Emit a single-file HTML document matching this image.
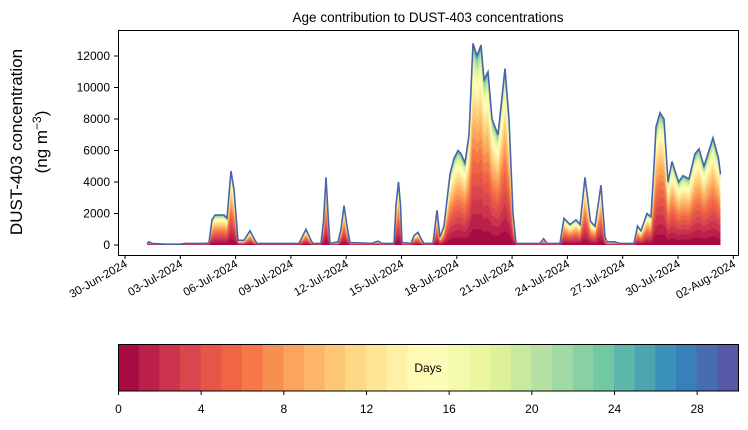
<!DOCTYPE html>
<html><head><meta charset="utf-8"><style>
body{margin:0;background:#fff;}
svg text{font-family:"Liberation Sans","DejaVu Sans",sans-serif;fill:#000;}
</style></head><body>
<svg id="s" width="748" height="425" xmlns="http://www.w3.org/2000/svg">
<defs><linearGradient id="g"></linearGradient></defs>
<g id="layers"></g>
<path id="env" fill="none" stroke="#4a64aa" stroke-width="1.6"/>
<rect x="118.5" y="30.5" width="620" height="225" fill="none" stroke="#000" stroke-width="1"/>
<text x="428" y="22" font-size="13.5" text-anchor="middle">Age contribution to DUST-403 concentrations</text>
<text transform="translate(22,142) rotate(-90)" font-size="17" text-anchor="middle">DUST-403 concentration</text>
<text transform="translate(47,142) rotate(-90)" font-size="17" text-anchor="middle">(ng m<tspan dy="-6" font-size="12">−3</tspan><tspan dy="6">)</tspan></text>
<g id="yt"></g><g id="xt"></g><g id="cb"></g>
</svg>
<script>
var S=document.getElementById('s'),NS='http://www.w3.org/2000/svg';
function el(t,a,p,txt){var e=document.createElementNS(NS,t);for(var k in a)e.setAttribute(k,a[k]);if(txt!=null)e.textContent=txt;(p||S).appendChild(e);return e;}
var stops=['#9e0142','#d53e4f','#f46d43','#fdae61','#fee08b','#ffffbf','#e6f598','#abdda4','#66c2a5','#3288bd','#5e4fa2'];
function hx(c){return [parseInt(c.substr(1,2),16),parseInt(c.substr(3,2),16),parseInt(c.substr(5,2),16)];}
function cmap(t){var p=t*10,i=Math.min(9,Math.floor(p)),f=p-i,a=hx(stops[i]),b=hx(stops[i+1]);return 'rgb('+a.map(function(v,k){return Math.round(v+(b[k]-v)*f)}).join(',')+')';}
var pts=[[147,100],[149,200],[152,100],[165,50],[180,50],[185,100],[207,100],[209,150],[212,1600],[215,1900],[224,1900],[227,1700],[231,4700],[234,3500],[238,300],[244,300],[250,900],[254,400],[257,100],[299,100],[306,1000],[311,300],[313,100],[321,100],[323.5,1500],[326,4300],[328,2000],[330,100],[338,200],[341,1000],[344,2500],[347,1200],[350,150],[372,100],[378,250],[382,100],[394,100],[396,2500],[398.5,4000],[400.5,2500],[402,150],[411,100],[414,600],[418,800],[421,400],[424,100],[433,100],[437,2200],[440,500],[444,1200],[450,4500],[454,5500],[458,6000],[461,5800],[465,5200],[469,7000],[473,12800],[477,12000],[481,12700],[484,10500],[488,11000],[492,8000],[498,7000],[505,11200],[509,8000],[513,2000],[516,100],[540,100],[543.6,400],[547,100],[560,100],[564,1700],[570,1300],[576,1600],[580,1300],[585,4300],[590.5,1500],[595,1200],[601,3800],[605,500],[607,200],[614,200],[620,100],[634,100],[637.5,1200],[641,900],[647,2000],[651,1800],[654,5000],[656,7500],[660,8400],[664,8000],[668,4000],[672,5300],[678.6,4000],[683,4400],[689,4200],[695,5800],[699,6100],[704,5000],[713,6800],[718.5,5500],[720.5,4500]];
function Y(v){return 245-v*189/12000;}
var L=document.getElementById('layers');
function cum(d){return 1-Math.pow(1-d/30,2.5);}
for(var d=29;d>=0;d--){var f=cum(d+1),s='M'+pts[0][0]+','+Y(0);pts.forEach(function(p){s+=' L'+p[0]+','+Y(p[1]*f).toFixed(1)});s+=' L'+pts[pts.length-1][0]+','+Y(0)+' Z';el('path',{d:s,fill:cmap((d+0.5)/30)},L);}
var s='';pts.forEach(function(p,i){s+=(i?' L':'M')+p[0]+','+Y(p[1]).toFixed(1)});document.getElementById('env').setAttribute('d',s);
var yt=document.getElementById('yt');
for(var v=0;v<=12000;v+=2000){var y=Y(v);el('line',{x1:114,x2:118,y1:y,y2:y,stroke:'#000'},yt);el('text',{x:110,y:y+4,'font-size':12,'text-anchor':'end'},yt,v);}
var xt=document.getElementById('xt'),lab=['30-Jun-2024','03-Jul-2024','06-Jul-2024','09-Jul-2024','12-Jul-2024','15-Jul-2024','18-Jul-2024','21-Jul-2024','24-Jul-2024','27-Jul-2024','30-Jul-2024','02-Aug-2024'];
lab.forEach(function(t,i){var x=125+i*55.3;el('line',{x1:x,x2:x,y1:255,y2:259,stroke:'#000'},xt);el('text',{transform:'translate('+(x+3)+',266) rotate(-30)','font-size':11.5,'text-anchor':'end'},xt,t);});
var cb=document.getElementById('cb'),w=620/30;
for(var i=0;i<30;i++)el('rect',{x:118+i*w,y:344,width:w+0.5,height:47,fill:cmap((i+0.5)/30)},cb);
el('rect',{x:118.5,y:344.5,width:620,height:46.5,fill:'none',stroke:'#000'},cb);
el('text',{x:428,y:372,'font-size':12,'text-anchor':'middle'},cb,'Days');
for(var k=0;k<=28;k+=4){var x=118.5+k*w;el('line',{x1:x,x2:x,y1:391,y2:395,stroke:'#000'},cb);el('text',{x:x,y:413,'font-size':12,'text-anchor':'middle'},cb,k);}
</script>
</body></html>
